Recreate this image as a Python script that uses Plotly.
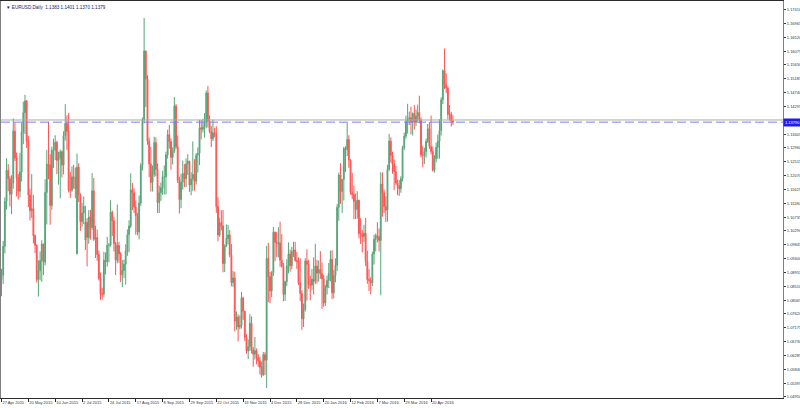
import plotly.graph_objects as go
import pandas as pd

# ---- data -------------------------------------------------------------
symbol_title = "\u25BC EURUSD,Daily  1.1383 1.1401 1.1370 1.1379"
missing_days = ["2015-12-25", "2016-01-01"]
dates = [d.strftime("%Y-%m-%d") for d in pd.bdate_range("2015-04-27", "2016-05-10")
         if d.strftime("%Y-%m-%d") not in missing_days]

opens = [
    1.0873, 1.0887, 1.0980, 1.1124, 1.1224, 1.1197, 1.1147, 1.1183, 1.1350, 1.1264,
    1.1199, 1.1157, 1.1219, 1.1347, 1.1409, 1.1447, 1.1318, 1.1145, 1.1094, 1.1101,
    1.1014, 1.0983, 1.0873, 1.0901, 1.0934, 1.0987, 1.0929, 1.1153, 1.1244, 1.1241,
    1.1111, 1.1289, 1.1289, 1.1314, 1.1256, 1.1262, 1.1284, 1.1241, 1.1336, 1.1375,
    1.1349, 1.1161, 1.1160, 1.1203, 1.1202, 1.0955, 1.1234, 1.1146, 1.1059, 1.1087,
    1.1000, 1.1057, 1.1008, 1.1074, 1.1040, 1.1158, 1.1002, 1.1008, 1.0953, 1.0876,
    1.0827, 1.0826, 1.0935, 1.0930, 1.0983, 1.0983, 1.1089, 1.1062, 1.0989, 1.0935,
    1.0982, 1.0955, 1.0888, 1.0902, 1.0922, 1.0965, 1.1017, 1.1045, 1.1161, 1.1152,
    1.1106, 1.1078, 1.1026, 1.1119, 1.1240, 1.1387, 1.1608, 1.1518, 1.1318, 1.1244,
    1.1185, 1.1211, 1.1313, 1.1227, 1.1120, 1.1152, 1.1168, 1.1203, 1.1203, 1.1274,
    1.1339, 1.1317, 1.1266, 1.1285, 1.1431, 1.1300, 1.1192, 1.1130, 1.1186, 1.1214,
    1.1197, 1.1245, 1.1253, 1.1177, 1.1196, 1.1211, 1.1189, 1.1273, 1.1279, 1.1361,
    1.1356, 1.1363, 1.1378, 1.1473, 1.1382, 1.1349, 1.1326, 1.1345, 1.1342, 1.1108,
    1.1016, 1.1056, 1.1045, 1.0924, 1.0981, 1.1005, 1.1016, 1.0953, 1.0863, 1.0878,
    1.0739, 1.0752, 1.0720, 1.0725, 1.0813, 1.0771, 1.0686, 1.0643, 1.0657, 1.0732,
    1.0646, 1.0633, 1.0644, 1.0622, 1.0611, 1.0591, 1.0565, 1.0631, 1.0613, 1.0941,
    1.0882, 1.0836, 1.0895, 1.1025, 1.0993, 1.0989, 1.0991, 1.0935, 1.0915, 1.0825,
    1.0866, 1.0917, 1.0955, 1.0917, 1.0963, 1.0968, 1.0934, 1.0931, 1.0862, 1.0828,
    1.0746, 1.0776, 1.0932, 1.0922, 1.0857, 1.0855, 1.0874, 1.0867, 1.0916, 1.0893,
    1.0905, 1.0892, 1.0875, 1.0797, 1.0848, 1.0870, 1.0893, 1.0938, 1.0830, 1.0886,
    1.0919, 1.1105, 1.1209, 1.1156, 1.1195, 1.1294, 1.1291, 1.1323, 1.1257, 1.1153,
    1.1146, 1.1124, 1.1098, 1.1128, 1.1021, 1.1018, 1.1011, 1.1022, 1.0931, 1.0873,
    1.0870, 1.0862, 1.0955, 1.1002, 1.1014, 1.1011, 1.0998, 1.1180, 1.1152, 1.1108,
    1.1096, 1.1228, 1.1318, 1.1272, 1.1244, 1.1220, 1.1183, 1.1175, 1.1165, 1.1197,
    1.1297, 1.1334, 1.1380, 1.1390, 1.1393, 1.1380, 1.1407, 1.1378, 1.1398, 1.1410,
    1.1386, 1.1273, 1.1272, 1.1284, 1.1317, 1.1358, 1.1300, 1.1285, 1.1224, 1.1262,
    1.1298, 1.1318, 1.1352, 1.1451, 1.1545, 1.1499, 1.1489, 1.1404, 1.1405, 1.1383,
]

highs = [
    1.0907, 1.0997, 1.1137, 1.1263, 1.1244, 1.1205, 1.1208, 1.1391, 1.1378, 1.1281,
    1.1212, 1.1280, 1.1376, 1.1445, 1.1467, 1.1450, 1.1335, 1.1164, 1.1212, 1.1145,
    1.1018, 1.0986, 1.0935, 1.0963, 1.0999, 1.0988, 1.1195, 1.1290, 1.1380, 1.1276,
    1.1300, 1.1326, 1.1337, 1.1319, 1.1284, 1.1291, 1.1288, 1.1350, 1.1437, 1.1401,
    1.1409, 1.1219, 1.1237, 1.1242, 1.1233, 1.1278, 1.1247, 1.1150, 1.1120, 1.1140,
    1.1110, 1.1070, 1.1096, 1.1097, 1.1215, 1.1199, 1.1046, 1.1034, 1.0966, 1.0895,
    1.0846, 1.0962, 1.0960, 1.1010, 1.0990, 1.1128, 1.1095, 1.1075, 1.0994, 1.1114,
    1.0994, 1.0961, 1.0935, 1.0937, 1.0986, 1.1034, 1.1063, 1.1214, 1.1183, 1.1166,
    1.1127, 1.1088, 1.1143, 1.1247, 1.1394, 1.1714, 1.1609, 1.1530, 1.1330, 1.1300,
    1.1240, 1.1332, 1.1330, 1.1246, 1.1175, 1.1185, 1.1223, 1.1240, 1.1284, 1.1355,
    1.1370, 1.1327, 1.1298, 1.1460, 1.1437, 1.1336, 1.1204, 1.1213, 1.1255, 1.1244,
    1.1262, 1.1276, 1.1255, 1.1218, 1.1317, 1.1260, 1.1279, 1.1298, 1.1387, 1.1386,
    1.1390, 1.1408, 1.1481, 1.1495, 1.1401, 1.1366, 1.1387, 1.1361, 1.1366, 1.1137,
    1.1072, 1.1096, 1.1096, 1.0986, 1.1050, 1.1048, 1.1032, 1.0987, 1.0900, 1.0898,
    1.0770, 1.0761, 1.0757, 1.0833, 1.0818, 1.0772, 1.0697, 1.0680, 1.0761, 1.0754,
    1.0656, 1.0688, 1.0651, 1.0633, 1.0624, 1.0609, 1.0640, 1.0639, 1.0981, 1.0991,
    1.0897, 1.0900, 1.1042, 1.1027, 1.1026, 1.1041, 1.1059, 1.1019, 1.0926, 1.0869,
    1.0938, 1.0992, 1.0969, 1.0978, 1.0994, 1.0994, 1.0961, 1.0944, 1.0941, 1.0838,
    1.0796, 1.0941, 1.0970, 1.0936, 1.0885, 1.0907, 1.0944, 1.0988, 1.0936, 1.0934,
    1.0964, 1.0928, 1.0888, 1.0856, 1.0885, 1.0926, 1.0966, 1.0967, 1.0904, 1.0941,
    1.1115, 1.1217, 1.1247, 1.1196, 1.1300, 1.1301, 1.1376, 1.1337, 1.1260, 1.1216,
    1.1175, 1.1150, 1.1157, 1.1129, 1.1070, 1.1032, 1.1049, 1.1071, 1.0966, 1.0906,
    1.0880, 1.0962, 1.1017, 1.1021, 1.1057, 1.1037, 1.1218, 1.1217, 1.1162, 1.1140,
    1.1242, 1.1342, 1.1330, 1.1284, 1.1259, 1.1238, 1.1195, 1.1193, 1.1205, 1.1303,
    1.1345, 1.1400, 1.1438, 1.1413, 1.1429, 1.1410, 1.1434, 1.1420, 1.1435, 1.1464,
    1.1394, 1.1303, 1.1297, 1.1326, 1.1373, 1.1379, 1.1400, 1.1301, 1.1273, 1.1313,
    1.1339, 1.1389, 1.1459, 1.1548, 1.1616, 1.1536, 1.1494, 1.1434, 1.1412, 1.1401,
]

lows = [
    1.0819, 1.0858, 1.0957, 1.1098, 1.1157, 1.1108, 1.1083, 1.1165, 1.1254, 1.1140,
    1.1130, 1.1137, 1.1188, 1.1308, 1.1341, 1.1296, 1.1106, 1.1063, 1.1071, 1.0989,
    1.0958, 1.0863, 1.0818, 1.0870, 1.0865, 1.0887, 1.0918, 1.1050, 1.1195, 1.1049,
    1.1097, 1.1232, 1.1257, 1.1212, 1.1178, 1.1134, 1.1201, 1.1211, 1.1320, 1.1290,
    1.1153, 1.1135, 1.1155, 1.1165, 1.1134, 1.0955, 1.1122, 1.1029, 1.1043, 1.1051,
    1.0968, 1.0915, 1.0988, 1.1001, 1.1032, 1.0997, 1.0942, 1.0933, 1.0870, 1.0807,
    1.0808, 1.0817, 1.0889, 1.0914, 1.0928, 1.0978, 1.1013, 1.0963, 1.0887, 1.0925,
    1.0927, 1.0865, 1.0848, 1.0877, 1.0856, 1.0949, 1.0960, 1.1038, 1.1096, 1.1087,
    1.1017, 1.1015, 1.1002, 1.1110, 1.1224, 1.1375, 1.1428, 1.1306, 1.1202, 1.1156,
    1.1156, 1.1203, 1.1205, 1.1087, 1.1087, 1.1126, 1.1145, 1.1147, 1.1146, 1.1262,
    1.1294, 1.1226, 1.1243, 1.1280, 1.1293, 1.1183, 1.1085, 1.1102, 1.1162, 1.1170,
    1.1170, 1.1209, 1.1155, 1.1144, 1.1158, 1.1159, 1.1178, 1.1217, 1.1241, 1.1323,
    1.1346, 1.1329, 1.1359, 1.1362, 1.1343, 1.1299, 1.1318, 1.1330, 1.1087, 1.0996,
    1.1010, 1.1031, 1.0896, 1.0897, 1.0977, 1.0986, 1.0944, 1.0851, 1.0849, 1.0706,
    1.0711, 1.0674, 1.0712, 1.0715, 1.0743, 1.0675, 1.0634, 1.0617, 1.0643, 1.0635,
    1.0592, 1.0615, 1.0600, 1.0592, 1.0568, 1.0557, 1.0565, 1.0566, 1.0524, 1.0800,
    1.0797, 1.0816, 1.0884, 1.0932, 1.0945, 1.0944, 1.0914, 1.0911, 1.0803, 1.0804,
    1.0852, 1.0893, 1.0898, 1.0906, 1.0945, 1.0930, 1.0907, 1.0855, 1.0803, 1.0711,
    1.0720, 1.0770, 1.0805, 1.0843, 1.0806, 1.0838, 1.0825, 1.0858, 1.0860, 1.0866,
    1.0875, 1.0778, 1.0785, 1.0788, 1.0825, 1.0845, 1.0867, 1.0810, 1.0812, 1.0864,
    1.0900, 1.1062, 1.1116, 1.1087, 1.1127, 1.1219, 1.1270, 1.1232, 1.1145, 1.1131,
    1.1067, 1.1067, 1.1069, 1.1005, 1.0987, 1.0960, 1.0994, 1.0916, 1.0859, 1.0836,
    1.0825, 1.0852, 1.0921, 1.0963, 1.0992, 1.0963, 1.0822, 1.1075, 1.1087, 1.1058,
    1.1059, 1.1221, 1.1249, 1.1213, 1.1160, 1.1178, 1.1144, 1.1142, 1.1152, 1.1188,
    1.1290, 1.1326, 1.1342, 1.1370, 1.1340, 1.1336, 1.1355, 1.1367, 1.1381, 1.1375,
    1.1265, 1.1234, 1.1244, 1.1265, 1.1312, 1.1293, 1.1275, 1.1220, 1.1217, 1.1250,
    1.1261, 1.1262, 1.1336, 1.1437, 1.1486, 1.1472, 1.1388, 1.1384, 1.1365, 1.1370,
]

closes = [
    1.0887, 1.0980, 1.1124, 1.1224, 1.1197, 1.1147, 1.1183, 1.1350, 1.1264, 1.1199,
    1.1157, 1.1219, 1.1347, 1.1409, 1.1447, 1.1318, 1.1145, 1.1094, 1.1101, 1.1014,
    1.0983, 1.0873, 1.0901, 1.0934, 1.0987, 1.0929, 1.1153, 1.1244, 1.1241, 1.1111,
    1.1289, 1.1289, 1.1314, 1.1256, 1.1262, 1.1284, 1.1241, 1.1336, 1.1375, 1.1349,
    1.1161, 1.1160, 1.1203, 1.1202, 1.1165, 1.1234, 1.1146, 1.1059, 1.1087, 1.1108,
    1.1057, 1.1008, 1.1074, 1.1040, 1.1158, 1.1002, 1.1008, 1.0953, 1.0876, 1.0827,
    1.0826, 1.0935, 1.0930, 1.0983, 1.0983, 1.1089, 1.1062, 1.0989, 1.0935, 1.0982,
    1.0955, 1.0888, 1.0902, 1.0922, 1.0965, 1.1017, 1.1045, 1.1161, 1.1152, 1.1106,
    1.1078, 1.1026, 1.1119, 1.1240, 1.1387, 1.1608, 1.1518, 1.1318, 1.1244, 1.1185,
    1.1211, 1.1313, 1.1227, 1.1120, 1.1152, 1.1168, 1.1203, 1.1203, 1.1274, 1.1339,
    1.1317, 1.1266, 1.1285, 1.1431, 1.1300, 1.1192, 1.1130, 1.1186, 1.1214, 1.1197,
    1.1245, 1.1253, 1.1177, 1.1196, 1.1211, 1.1189, 1.1273, 1.1279, 1.1361, 1.1356,
    1.1363, 1.1378, 1.1473, 1.1382, 1.1349, 1.1326, 1.1345, 1.1342, 1.1108, 1.1016,
    1.1056, 1.1045, 1.0924, 1.0981, 1.1005, 1.1016, 1.0953, 1.0863, 1.0878, 1.0739,
    1.0752, 1.0720, 1.0725, 1.0813, 1.0771, 1.0686, 1.0643, 1.0657, 1.0732, 1.0646,
    1.0633, 1.0644, 1.0622, 1.0611, 1.0591, 1.0565, 1.0631, 1.0613, 1.0941, 1.0882,
    1.0836, 1.0895, 1.1025, 1.0993, 1.0989, 1.0991, 1.0935, 1.0915, 1.0825, 1.0866,
    1.0917, 1.0955, 1.0917, 1.0963, 1.0968, 1.0934, 1.0931, 1.0862, 1.0828, 1.0746,
    1.0776, 1.0932, 1.0922, 1.0857, 1.0855, 1.0874, 1.0867, 1.0916, 1.0893, 1.0905,
    1.0892, 1.0875, 1.0797, 1.0848, 1.0870, 1.0893, 1.0938, 1.0830, 1.0886, 1.0919,
    1.1105, 1.1209, 1.1156, 1.1195, 1.1294, 1.1291, 1.1323, 1.1257, 1.1153, 1.1146,
    1.1124, 1.1098, 1.1128, 1.1021, 1.1018, 1.1011, 1.1022, 1.0931, 1.0873, 1.0870,
    1.0862, 1.0955, 1.1002, 1.1014, 1.1011, 1.0998, 1.1180, 1.1152, 1.1108, 1.1096,
    1.1228, 1.1318, 1.1272, 1.1244, 1.1220, 1.1183, 1.1175, 1.1165, 1.1197, 1.1297,
    1.1334, 1.1380, 1.1390, 1.1393, 1.1380, 1.1407, 1.1378, 1.1398, 1.1410, 1.1386,
    1.1273, 1.1272, 1.1284, 1.1317, 1.1358, 1.1300, 1.1285, 1.1224, 1.1262, 1.1298,
    1.1318, 1.1352, 1.1451, 1.1545, 1.1499, 1.1489, 1.1404, 1.1405, 1.1383, 1.1379,
]

x_tick_labels = ["27 Apr 2015", "20 May 2015", "10 Jun 2015", "2 Jul 2015", "24 Jul 2015",
                 "17 Aug 2015", "8 Sep 2015", "29 Sep 2015", "22 Oct 2015", "13 Nov 2015",
                 "4 Dec 2015", "28 Dec 2015", "20 Jan 2016", "12 Feb 2016", "7 Mar 2016",
                 "29 Mar 2016", "20 Apr 2016"]
x_tick_every = 16

y_tick_values = [1.04950, 1.05395, 1.05840, 1.06285, 1.06730, 1.07175, 1.07620, 1.08065,
                 1.08510, 1.08955, 1.09400, 1.09845, 1.10290, 1.10735, 1.11180, 1.11625,
                 1.12070, 1.12515, 1.12960, 1.13405, 1.14295, 1.14740, 1.15185, 1.15630,
                 1.16075, 1.16520, 1.16965, 1.17410]

bid_price = 1.13790
ask_line_price = 1.13860
# ---------------------------------------------------------------------

n = min(len(dates), len(opens), len(highs), len(lows), len(closes))
dates = dates[:n]

fig = go.Figure()
fig.add_trace(go.Candlestick(
    x=dates, open=opens[:n], high=highs[:n], low=lows[:n], close=closes[:n],
    increasing=dict(line=dict(color="#2f8f57", width=1), fillcolor="#2f8f57"),
    decreasing=dict(line=dict(color="#ff2a2a", width=1), fillcolor="#ff2a2a"),
    whiskerwidth=0, opacity=0.8, showlegend=False, hoverinfo="skip",
))

tickvals = [dates[i * x_tick_every] for i in range(len(x_tick_labels)) if i * x_tick_every < n]

fig.update_layout(
    width=800, height=408,
    margin=dict(l=1, r=17, t=1, b=10, pad=0, autoexpand=False),
    paper_bgcolor="white", plot_bgcolor="white",
    font=dict(family="Liberation Sans, Arial, sans-serif", size=5, color="#333333"),
    xaxis=dict(
        type="category", range=[-0.3, 465.7], rangeslider=dict(visible=False),
        showgrid=False, zeroline=False, automargin=False,
        showline=True, linecolor="#2b2b2b", linewidth=1, mirror=True,
        tickmode="array", tickvals=tickvals, ticktext=x_tick_labels[:len(tickvals)],
        ticks="outside", ticklen=3, tickcolor="#2b2b2b", tickwidth=1,
        ticklabelposition="outside right", tickangle=0,
        tickfont=dict(size=4.0, color="#333344"),
    ),
    yaxis=dict(
        side="right", range=[1.04917, 1.17687],
        showgrid=False, zeroline=False, automargin=False,
        showline=True, linecolor="#808080", linewidth=1, mirror=True,
        tickmode="array", tickvals=y_tick_values,
        ticktext=[f"{v:.5f}" for v in y_tick_values],
        ticks="outside", ticklen=2, tickcolor="#333333",
        tickfont=dict(size=4.0, color="#333344"),
    ),
)

# horizontal price lines
fig.add_shape(type="line", xref="paper", x0=0, x1=1, yref="y", y0=ask_line_price, y1=ask_line_price,
              line=dict(color="#a8a8b8", width=1))
fig.add_shape(type="line", xref="paper", x0=0, x1=1, yref="y", y0=bid_price, y1=bid_price,
              line=dict(color="#7d7dff", width=1, dash="9px,4px"))

# current price label on the axis
fig.add_annotation(xref="paper", x=1.0, xanchor="left", yref="y", y=bid_price, yanchor="middle",
                   text=f"{bid_price:.5f}", showarrow=False, bgcolor="#1f1fe6",
                   font=dict(size=4.0, color="white"), borderpad=1)

# symbol title
fig.add_annotation(xref="paper", x=0.004, xanchor="left", yref="paper", y=0.995, yanchor="top",
                   text=symbol_title, showarrow=False,
                   font=dict(size=4.6, color="#1a1a66"))

fig.write_html("out.html", config={"displayModeBar": False},
               post_script="document.body.style.margin='0';document.body.style.overflow='hidden';")
